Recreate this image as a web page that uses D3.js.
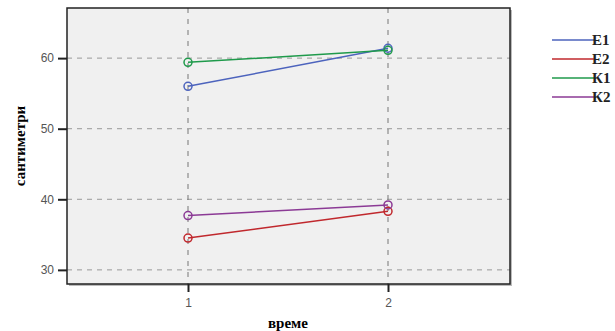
<!DOCTYPE html>
<html>
<head>
  <meta charset="utf-8">
  <script src="https://cdn.jsdelivr.net/npm/d3@7"></script>
  <style>
    body { margin:0; background:#fff; }
  </style>
</head>
<body>
<div id="chart"></div>
<script>
var times = [1, 2];
var groups = ['Е1', 'Е2', 'К1', 'К2'];
var colors = ['#4c63bd', '#c0282d', '#1f9a4b', '#8b3a95'];
var valE1 = [56.0, 61.4];
var valE2 = [34.5, 38.3];
var valK1 = [59.4, 61.1];
var valK2 = [37.7, 39.2];
var yTicks = [30, 40, 50, 60];
var series = [valE1, valE2, valK1, valK2];

var w = 615, h = 331;
var pLeft = 67, pRight = 510, pTop = 8, pBottom = 284;

var svg = d3.select('#chart').append('svg')
  .attr('width', w).attr('height', h);

var x = d3.scaleLinear().domain([0.395, 2.61]).range([pLeft, pRight]);
var y = d3.scaleLinear().domain([28, 67.1]).range([pBottom, pTop]);

// plot background + slight shadow
svg.append('rect')
  .attr('x', pLeft + 2).attr('y', pTop + 2)
  .attr('width', pRight - pLeft).attr('height', pBottom - pTop)
  .attr('fill', '#bbb');
svg.append('rect')
  .attr('x', pLeft).attr('y', pTop)
  .attr('width', pRight - pLeft).attr('height', pBottom - pTop)
  .attr('fill', '#f0f0f0');

// grid
svg.selectAll('.hgrid').data(yTicks).enter().append('line')
  .attr('x1', pLeft).attr('x2', pRight)
  .attr('y1', function(d){ return y(d); }).attr('y2', function(d){ return y(d); })
  .attr('stroke', '#999').attr('stroke-dasharray', '5,5');
svg.selectAll('.vgrid').data(times).enter().append('line')
  .attr('x1', function(d){ return x(d); }).attr('x2', function(d){ return x(d); })
  .attr('y1', pTop).attr('y2', pBottom)
  .attr('stroke', '#777').attr('stroke-dasharray', '5,6');

// frame
svg.append('rect')
  .attr('x', pLeft).attr('y', pTop)
  .attr('width', pRight - pLeft).attr('height', pBottom - pTop)
  .attr('fill', 'none').attr('stroke', '#222').attr('stroke-width', 1.5);

// axes
var yAxis = svg.append('g').attr('transform', 'translate(' + pLeft + ',0)')
  .call(d3.axisLeft(y).tickValues(yTicks).tickSize(9).tickPadding(4));
var xAxis = svg.append('g').attr('transform', 'translate(0,' + pBottom + ')')
  .call(d3.axisBottom(x).tickValues(times).tickSize(8).tickPadding(6).tickFormat(d3.format('d')));
[yAxis, xAxis].forEach(function(a){
  a.select('.domain').remove();
  a.selectAll('.tick line').attr('stroke', '#222').attr('stroke-width', 2);
  a.selectAll('.tick text').attr('fill', '#555')
    .style('font-family', 'Liberation Sans, Arial, sans-serif').style('font-size', '12px');
});

// lines
var line = d3.line()
  .x(function(d, i){ return x(times[i]); })
  .y(function(d){ return y(d); });

series.forEach(function(s, k){
  svg.append('path').datum(s)
    .attr('d', line).attr('fill', 'none')
    .attr('stroke', colors[k]).attr('stroke-width', 1.5);
  svg.selectAll('.pt' + k).data(s).enter().append('circle')
    .attr('cx', function(d, i){ return x(times[i]); })
    .attr('cy', function(d){ return y(d); })
    .attr('r', 4)
    .attr('fill', 'none').attr('stroke', colors[k]).attr('stroke-width', 1.5);
});

// titles
svg.append('text')
  .attr('transform', 'translate(25,' + ((pTop + pBottom) / 2) + ') rotate(-90)')
  .attr('text-anchor', 'middle')
  .style('font-family', 'Liberation Serif, Times New Roman, serif')
  .style('font-weight', 'bold').style('font-size', '15px')
  .text('сантиметри');
svg.append('text')
  .attr('x', x(1.5)).attr('y', 328)
  .attr('text-anchor', 'middle')
  .style('font-family', 'Liberation Serif, Times New Roman, serif')
  .style('font-weight', 'bold').style('font-size', '15px')
  .text('време');

// legend
var legend = svg.selectAll('.leg').data(groups).enter().append('g')
  .attr('transform', function(d, i){ return 'translate(552,' + (40 + i * 19) + ')'; });
legend.append('line')
  .attr('x1', 0).attr('x2', 43).attr('y1', 0).attr('y2', 0)
  .attr('stroke', function(d, i){ return colors[i]; }).attr('stroke-width', 1.5);
legend.append('text')
  .attr('x', 40).attr('y', 5)
  .style('font-family', 'Liberation Serif, Times New Roman, serif')
  .style('font-weight', 'bold').style('font-size', '15px')
  .attr('fill', '#222')
  .text(function(d){ return d; });
</script>
</body>
</html>
